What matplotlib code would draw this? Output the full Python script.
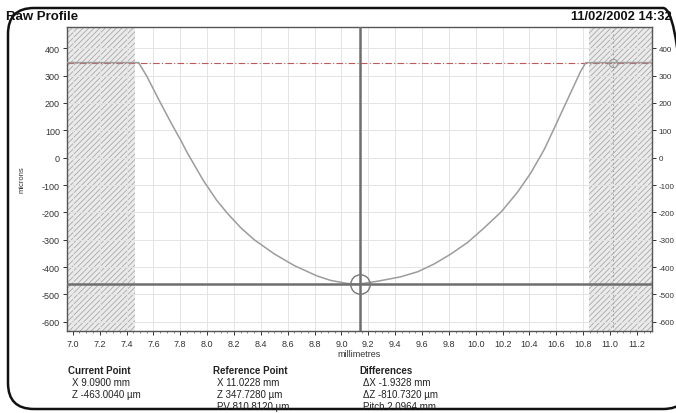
import matplotlib
matplotlib.use("Agg")
import matplotlib.pyplot as plt
from matplotlib.patches import FancyBboxPatch
from matplotlib.ticker import MultipleLocator

plt.rcParams['font.family'] = ['Liberation Sans', 'DejaVu Sans']
plt.rcParams['hatch.color'] = '#a8a8a8'
plt.rcParams['hatch.linewidth'] = 0.6

# raw profile trace (mm, microns)
profile_x = [6.96, 7.49, 7.55, 7.60, 7.65, 7.73, 7.81, 7.85, 7.97, 8.07, 8.15, 8.25,
             8.35, 8.50, 8.65, 8.82, 8.92, 9.04, 9.12, 9.27, 9.44, 9.57, 9.69, 9.81,
             9.94, 10.06, 10.19, 10.31, 10.41, 10.51, 10.58, 10.66, 10.73, 10.78,
             10.82, 11.31]
profile_z = [347.7, 347.7, 299, 251, 203, 129, 58, 20, -82, -155, -203, -256,
             -300, -352, -395, -433, -449, -460, -463, -452, -436, -417, -389, -354,
             -310, -258, -198, -127, -56, 30, 103, 188, 262, 315,
             347.7, 347.7]

# masked (excluded) zones at both ends
mask_left = (6.957, 7.465)
mask_right = (10.845, 11.31)

current_x, current_z = 9.14, -463.004
ref_x, ref_z = 11.0228, 347.728

y_ticks = [400, 300, 200, 100, 0, -100, -200, -300, -400, -500, -600]
x_ticks = [7.0, 7.2, 7.4, 7.6, 7.8, 8.0, 8.2, 8.4, 8.6, 8.8, 9.0, 9.2, 9.4,
           9.6, 9.8, 10.0, 10.2, 10.4, 10.6, 10.8, 11.0, 11.2]

current_lines = ["Current Point", "X 9.0900 mm", "Z -463.0040 \u00b5m"]
reference_lines = ["Reference Point", "X 11.0228 mm", "Z 347.7280 \u00b5m", "PV 810.8120 \u00b5m"]
diff_lines = ["Differences", "\u0394X -1.9328 mm", "\u0394Z -810.7320 \u00b5m", "Pitch 2.0964 mm"]

W, H = 676, 414
fig = plt.figure(figsize=(W / 100, H / 100), dpi=100)
fig.patch.set_facecolor('white')

ax = fig.add_axes([67 / W, 1 - 331.7 / H, (651.7 - 67) / W, (331.7 - 28) / H])
ax.set_xlim(6.957, 11.31)
ax.set_ylim(-633, 478)

# grid
ax.set_xticks(x_ticks)
ax.set_yticks(y_ticks)
ax.xaxis.set_minor_locator(MultipleLocator(0.05))
ax.grid(True, which='major', color='#e4e4e4', lw=0.7, zorder=0)

# hatched zones
for lo, hi in (mask_left, mask_right):
    ax.axvspan(lo, hi, facecolor='#ebebeb', edgecolor='#a8a8a8', hatch='//////',
               lw=0, zorder=1)

# reference level
ax.axhline(ref_z, color='#c05a5a', lw=0.8, ls=(0, (6, 2, 1, 2)), zorder=2)
ax.axvline(ref_x, color='#9a9a9a', lw=0.7, ls=(0, (1.5, 2.5)), zorder=2)

ax.plot(profile_x, profile_z, color='#9c9c9c', lw=1.1, zorder=3)

# current point cursor
ax.axhline(current_z, color='#6e6e6e', lw=1.8, zorder=4)
ax.axvline(current_x, color='#6e6e6e', lw=1.8, zorder=4)
ax.plot([current_x], [current_z], marker='o', ms=14, mfc='none', mec='#777777',
        mew=1.0, zorder=5)
ax.plot([ref_x], [ref_z], marker='o', ms=6, mfc='none', mec='#999999',
        mew=0.8, zorder=5)

for s in ax.spines.values():
    s.set_color('#555555')
    s.set_linewidth(1.0)

ax.tick_params(axis='y', which='major', labelsize=6.5, colors='#333333',
               length=3, width=0.7, pad=2, right=True, labelright=True)
ax.tick_params(axis='x', which='major', labelsize=6.5, colors='#333333',
               length=3, width=0.7, pad=3)
ax.tick_params(axis='x', which='minor', length=1.5, width=0.5, colors='#555555')
ax.set_xticklabels([f"{v:.1f}" for v in x_ticks])
ax.set_yticklabels([str(v) for v in y_ticks])
# right-hand labels sit at the very edge of the figure, keep them small
for tick in ax.yaxis.get_major_ticks():
    tick.label2.set_fontsize(5.8)

ax.set_xlabel("millimetres", fontsize=6.5, color='#333333', labelpad=1)
ax.set_ylabel("microns", fontsize=5.5, color='#333333', labelpad=12)

# header and rounded frame
frame = FancyBboxPatch((8, 4), 681, 401, boxstyle="round,pad=0,rounding_size=26",
                       transform=None, fill=False, ec='#111111', lw=1.8)
fig.add_artist(frame)
t1 = fig.text(6 / W, 1 - 17 / H, "Raw Profile", fontsize=9.5, fontweight='bold',
              va='center', ha='left', color='#111111')
t1.set_clip_path(frame)
fig.text(672 / W, 1 - 17 / H, "11/02/2002 14:32", fontsize=9.3, fontweight='bold',
         va='center', ha='right', color='#111111')

# readout blocks under the plot
for x0, lines in ((68, current_lines), (213, reference_lines), (359, diff_lines)):
    for i, line in enumerate(lines):
        fig.text((x0 + (0 if i == 0 else 4)) / W, 1 - (371.5 + 12.0 * i) / H, line,
                 fontsize=7, fontweight='bold' if i == 0 else 'normal',
                 va='center', ha='left', color='#222222')

fig.savefig("out.png", dpi=100, facecolor='white')
